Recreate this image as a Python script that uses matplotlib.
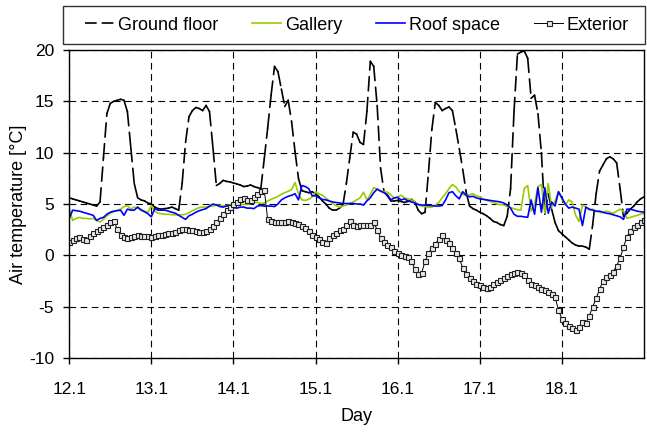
import numpy as np
import matplotlib
matplotlib.use('Agg')
import matplotlib.pyplot as plt
from matplotlib.collections import LineCollection
from matplotlib.lines import Line2D
from matplotlib.patches import Rectangle

plt.rcParams['font.family'] = ['Liberation Sans', 'DejaVu Sans']
plt.rcParams['axes.unicode_minus'] = False

# hourly readings, 12.1 00:00 to 19.1 00:00
day_labels = ['12.1', '13.1', '14.1', '15.1', '16.1', '17.1', '18.1']

ground_floor = [
    5.6, 5.5, 5.4, 5.3, 5.2, 5.1, 5.0, 4.9, 4.8, 5.2,
    9.5, 13.8, 14.8, 15.0, 15.1, 15.2, 15.1, 14.0, 10.5, 7.0,
    5.6, 5.4, 5.3, 5.1, 5.0, 4.7, 4.55, 4.5, 4.55, 4.6,
    4.7, 4.55, 4.4, 7.0, 11.0, 13.5, 14.1, 14.4, 14.3, 14.1,
    14.6, 14.0, 10.5, 6.8, 7.0, 7.3, 7.2, 7.15, 7.05, 6.95,
    6.85, 6.7, 6.75, 6.85, 6.7, 6.6, 6.5, 9.4, 12.4, 15.6,
    18.4, 17.9, 16.2, 14.5, 15.1, 13.0, 10.1, 7.5, 6.3, 6.2,
    6.1, 6.2, 6.0, 5.7, 5.3, 5.0, 4.6, 4.4, 4.4, 4.6,
    4.9, 7.0, 9.5, 12.0, 11.8, 11.0, 10.8, 14.0, 18.9, 18.4,
    14.6, 8.5, 6.2, 5.8, 5.3, 5.3, 5.35, 5.25, 5.15, 5.25,
    5.45, 5.2, 4.4, 4.05, 4.2, 8.1, 12.3, 14.9, 14.6, 14.1,
    14.3, 14.45, 14.1, 12.3, 10.4, 8.4, 6.2, 4.8, 4.55, 4.4,
    4.2, 4.05, 3.85, 3.6, 3.3, 3.2, 3.0, 2.9, 3.8, 6.5,
    14.0, 19.6, 19.8, 19.9, 19.2, 15.3, 15.6, 13.8, 10.0, 4.0,
    6.0, 4.5, 3.2, 2.4, 2.1, 1.8, 1.5, 1.2, 1.0, 0.9,
    0.9, 0.8, 0.6, 3.0, 6.0, 8.2, 8.8, 9.4, 9.6, 9.4,
    9.0, 6.5, 3.8, 4.1, 4.5, 4.8, 5.2, 5.5, 5.7]

gallery = [
    4.6, 3.4, 3.6, 3.7, 3.6, 3.6, 3.55, 3.6, 3.4, 3.25,
    3.5, 3.85, 4.1, 4.25, 4.4, 4.5, 4.75, 4.85, 4.5, 4.7,
    4.6, 4.5, 4.3, 4.2, 4.85, 4.3, 4.1, 4.05, 4.0, 4.0,
    3.95, 3.95, 3.95, 3.95, 4.0, 4.15, 4.35, 4.5, 4.65, 4.7,
    4.7, 4.75, 4.8, 4.9, 4.85, 4.8, 4.85, 4.9, 5.0, 5.0,
    4.97, 4.95, 4.95, 5.05, 5.15, 5.15, 5.05, 5.1, 5.3, 5.45,
    5.6, 5.75, 5.95, 6.1, 6.25, 6.4, 7.1, 6.0, 5.4, 5.35,
    5.45, 5.7, 6.15, 6.0, 5.85, 5.6, 5.3, 5.05, 4.85, 4.7,
    4.8, 4.9, 5.05, 5.2, 5.4, 5.6, 6.15, 5.4, 5.9, 6.6,
    6.45, 6.3, 6.2, 6.15, 5.9, 5.55, 5.7, 5.85, 5.6, 5.5,
    5.4, 5.2, 4.95, 4.8, 4.75, 4.7, 4.7, 4.9, 5.15, 5.6,
    6.0, 6.5, 6.9, 6.65, 6.2, 5.95, 5.85, 5.9, 6.0, 5.8,
    5.7, 5.5, 5.35, 5.25, 5.15, 5.0, 4.95, 4.9, 4.75, 4.65,
    4.55, 4.45, 4.4, 6.5, 6.8, 4.3, 5.0, 6.7, 6.9, 4.1,
    7.0, 4.7, 5.3, 6.2, 5.5, 4.9, 5.4, 5.2, 3.9, 3.3,
    4.9, 4.7, 4.4, 4.5, 4.3, 4.2, 4.15, 4.3, 4.2, 4.1,
    4.3, 4.5, 4.3, 3.6, 3.7, 3.8, 3.9, 4.0, 4.1]

roof_space = [
    3.6, 4.4, 4.35, 4.3, 4.2, 4.1, 4.0, 3.9, 3.4, 3.6,
    3.7, 4.0, 4.2, 4.3, 4.35, 4.4, 3.9, 4.5, 4.4, 4.4,
    4.7, 4.4, 4.25, 4.05, 3.75, 4.55, 4.4, 4.4, 4.4, 4.3,
    4.2, 4.1, 3.9, 3.7, 3.5, 3.85, 4.0, 4.2, 4.35, 4.45,
    4.55, 4.8, 5.0, 4.9, 4.75, 4.7, 4.8, 4.85, 4.65, 4.6,
    4.7, 4.7, 4.6, 4.6, 4.55, 4.8, 4.85, 4.8, 4.8, 4.8,
    4.75, 5.0, 5.4, 5.6, 5.75, 5.85, 6.0, 5.4, 6.8, 6.7,
    6.5, 5.8, 5.8, 5.6, 5.45, 5.4, 5.3, 5.2, 5.15, 5.1,
    5.05, 5.05, 5.05, 5.05, 5.0, 5.0, 4.9, 5.3, 5.6, 6.1,
    6.45, 6.25, 6.1, 5.9, 5.4, 5.6, 5.65, 5.4, 5.5, 5.3,
    5.2, 5.1, 4.95, 4.9, 4.9, 4.85, 4.85, 4.8, 4.8, 4.85,
    5.4, 6.1, 6.2, 5.8, 5.5, 6.2, 5.85, 5.7, 5.75, 5.6,
    5.5, 5.45, 5.4, 5.35, 5.3, 5.25, 5.2, 5.1, 4.9, 4.6,
    4.0, 3.8, 3.8, 3.75, 3.7, 5.4, 4.0, 6.6, 4.2, 6.6,
    4.1, 5.2, 4.8, 6.2, 5.6, 5.0, 4.6, 4.7, 4.6, 4.5,
    2.9, 4.7, 4.5, 4.4, 4.3, 4.3, 4.2, 4.1, 4.05, 3.95,
    3.85, 3.75, 3.5, 4.5, 4.5, 4.4, 4.3, 4.25, 4.2]

exterior = [
    1.3, 1.5, 1.65, 1.75, 1.6, 1.5, 1.9, 2.2, 2.4, 2.6,
    2.8, 3.0, 3.2, 3.35, 2.6, 2.0, 1.75, 1.65, 1.75, 1.9,
    2.0, 1.9, 1.85, 1.85, 1.8, 1.85, 1.95, 2.0, 2.1, 2.15,
    2.2, 2.3, 2.45, 2.55, 2.6, 2.5, 2.45, 2.4, 2.3, 2.25,
    2.4, 2.55, 2.9, 3.2, 3.6, 4.0, 4.4, 4.75, 5.0, 5.2,
    5.45, 5.55, 5.4, 5.4, 5.65, 5.95, 6.3, 6.4, 3.5, 3.3,
    3.25, 3.2, 3.25, 3.25, 3.3, 3.2, 3.15, 3.1, 2.9, 2.7,
    2.4, 2.0, 1.8, 1.55, 1.3, 1.25, 1.65, 1.95, 2.2, 2.45,
    2.6, 3.0, 3.3, 2.95, 2.9, 3.0, 3.0, 3.0, 3.0, 3.2,
    2.5, 1.7, 1.3, 1.0, 0.8, 0.4, 0.2, 0.05, -0.1, -0.2,
    -0.6, -1.3, -1.8, -1.7, -0.6, 0.2, 0.7, 1.1, 1.6, 1.95,
    1.5, 1.2, 0.7, 0.2, -0.3, -1.2, -1.8, -2.2, -2.5, -2.75,
    -2.9, -3.05, -3.2, -3.05, -2.75, -2.55, -2.4, -2.2, -2.0, -1.85,
    -1.75, -1.65, -1.75, -1.95, -2.4, -2.75, -2.9, -3.1, -3.25, -3.4,
    -3.55, -3.8, -4.1, -5.3, -6.2, -6.6, -6.85, -7.05, -7.25, -7.0,
    -6.5, -6.6, -5.9, -5.0, -4.2, -3.3, -2.5, -2.15, -1.95, -1.6,
    -1.0, -0.3, 0.8, 1.8, 2.4, 2.75, 3.0, 3.25, 3.4]

hours = np.arange(len(ground_floor))

fig = plt.figure(figsize=(6.47, 4.33), dpi=100)
ax = fig.add_axes([0.107, 0.1732, 0.8884, 0.7113])

# excel-style dashing: the dash pattern restarts on every segment
pts = np.column_stack([hours, ground_floor])
segs = np.stack([pts[:-1], pts[1:]], axis=1)
lc = LineCollection(segs, colors='black', linewidths=1.2, linestyles=[(0, (8.5, 4))],
                    capstyle='round')
ax.add_collection(lc)

ax.plot(hours, gallery, color='#99CC00', lw=1.2)
ax.plot(hours, roof_space, color='#0000FF', lw=1.2)
ax.plot(hours, exterior, color='black', lw=0.7, marker='s', ms=3.6,
        mfc='#e8e8e8', mec='#202020', mew=0.8)

ax.set_xlim(0, 168)
ax.set_ylim(-10, 20)
ax.set_xticks(np.arange(0, 168, 24))
ax.set_xticklabels(day_labels)
ax.set_yticks(range(-10, 21, 5))
ax.grid(True, color='black', ls=(0, (6, 4)), lw=0.8)
ax.tick_params(direction='out', length=4, width=1, labelsize=12.5, colors='black')
ax.tick_params(axis='x', pad=13)
ax.tick_params(axis='y', pad=7)
for s in ax.spines.values():
    s.set_linewidth(1.0)
ax.set_xlabel('Day', fontsize=13, labelpad=8)
ax.set_ylabel('Air temperature [°C]', fontsize=13, labelpad=1)

# legend box above the plot
fig.add_artist(Rectangle((63 / 647, 1 - 44 / 433), 582 / 647, 38 / 433,
                         transform=fig.transFigure, fill=False, ec='#333333', lw=1.0))
handles = [
    Line2D([], [], color='black', lw=1.2, ls=(0, (7, 3))),
    Line2D([], [], color='#99CC00', lw=1.2),
    Line2D([], [], color='#0000FF', lw=1.2),
    Line2D([], [], color='black', lw=0.7, marker='s', ms=3.6, mfc='#e8e8e8', mec='#202020', mew=0.8),
]
labels = ['Ground floor', 'Gallery', 'Roof space', 'Exterior']
fig.legend(handles, labels, loc='center', bbox_to_anchor=(357 / 647, 1 - 25 / 433), ncol=4,
           frameon=False, fontsize=13, handlelength=1.6, handletextpad=0.2, columnspacing=1.9)

fig.savefig('out.png', dpi=100)
